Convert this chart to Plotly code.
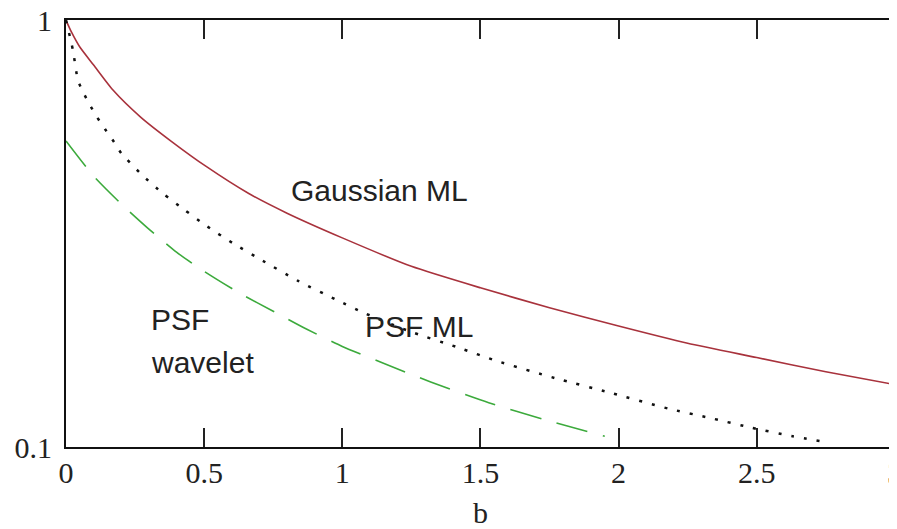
import math
import plotly.graph_objects as go

# Gaussian ML (red solid)
b_gauss = [0, 0.02, 0.05, 0.1, 0.17, 0.27, 0.38, 0.51, 0.66, 0.8, 1.0, 1.25, 1.5, 1.75, 2.0, 2.25, 2.5, 2.75, 3.0]
v_gauss = [1.0, 0.937, 0.865, 0.785, 0.686, 0.593, 0.521, 0.453, 0.393, 0.353, 0.309, 0.265, 0.236, 0.212, 0.192, 0.175, 0.162, 0.150, 0.140]

# PSF ML (black dotted)
b_psfml = [0, 0.025, 0.043, 0.062, 0.087, 0.112, 0.141, 0.174, 0.2, 0.275, 0.35, 0.43, 0.51, 0.605, 0.7, 0.84, 0.98, 1.08, 1.24, 1.42, 1.56, 1.77, 1.97, 2.18, 2.33, 2.48, 2.63, 2.74]
v_psfml = [1.0, 0.851, 0.724, 0.678, 0.632, 0.593, 0.556, 0.518, 0.488, 0.434, 0.393, 0.359, 0.329, 0.300, 0.276, 0.245, 0.221, 0.206, 0.187, 0.171, 0.159, 0.145, 0.134, 0.123, 0.117, 0.111, 0.106, 0.103]

# PSF wavelet (green dashed)
b_wav = [0, 0.1, 0.2, 0.3, 0.4, 0.5, 0.63, 0.75, 0.87, 1.0, 1.14, 1.32, 1.53, 1.73, 1.95]
v_wav = [0.521, 0.431, 0.371, 0.324, 0.286, 0.258, 0.229, 0.208, 0.189, 0.172, 0.158, 0.142, 0.127, 0.116, 0.106]

x_ticks = [0, 0.5, 1, 1.5, 2, 2.5, 3]
x_ticklabels = ["0", "0.5", "1", "1.5", "2", "2.5", "3"]
y_ticks = [0.1, 1]
y_ticklabels = ["0.1", "1"]

fig = go.Figure()
fig.add_trace(go.Scatter(x=b_gauss, y=v_gauss, mode="lines",
                         line=dict(color="#a8323c", width=1.6, shape="spline", smoothing=0.6),
                         name="Gaussian ML", showlegend=False))
fig.add_trace(go.Scatter(x=b_psfml, y=v_psfml, mode="lines",
                         line=dict(color="#111111", width=2.5, dash="3px,10px", shape="spline", smoothing=0.6),
                         name="PSF ML", showlegend=False))
fig.add_trace(go.Scatter(x=b_wav, y=v_wav, mode="lines",
                         line=dict(color="#3caa3c", width=1.6, dash="32px,16px", shape="spline", smoothing=0.6),
                         name="PSF wavelet", showlegend=False))

ann_font = dict(family="Liberation Sans, Arial, sans-serif", size=30, color="#222222")
# annotation y on a log axis is given in log10 units
fig.add_annotation(x=0.806, y=math.log10(0.40), xref="x", yref="y", text="Gaussian ML", showarrow=False,
                   xanchor="left", yanchor="middle", font=ann_font)
fig.add_annotation(x=1.075, y=math.log10(0.192), xref="x", yref="y", text="PSF ML", showarrow=False,
                   xanchor="left", yanchor="middle", font=ann_font)
fig.add_annotation(x=0.302, y=math.log10(0.199), xref="x", yref="y", text="PSF", showarrow=False,
                   xanchor="left", yanchor="middle", font=ann_font)
fig.add_annotation(x=0.302, y=math.log10(0.158), xref="x", yref="y", text="wavelet", showarrow=False,
                   xanchor="left", yanchor="middle", font=ann_font)

tick_font = dict(family="Liberation Serif, Times New Roman, serif", size=30, color="#222222")

fig.update_layout(
    width=889, height=521,
    margin=dict(l=58, r=2, t=12, b=82),
    paper_bgcolor="white", plot_bgcolor="white",
    showlegend=False,
    xaxis=dict(range=[0, 3.0005], tickvals=x_ticks, ticktext=x_ticklabels,
               ticks="inside", ticklen=19, tickwidth=2, tickcolor="#222222",
               showline=True, linewidth=2, linecolor="#111111", mirror="ticks",
               showgrid=False, zeroline=False, tickfont=tick_font,
               ticklabelstandoff=-2, ticklabeloverflow="allow", automargin=False,
               title=dict(text="b", font=tick_font, standoff=16)),
    yaxis=dict(type="log", range=[-1, 0.0004], tickvals=y_ticks, ticktext=y_ticklabels,
               ticks="", showline=True, linewidth=2, linecolor="#111111", mirror=True,
               showgrid=False, zeroline=False, tickfont=tick_font,
               ticklabelstandoff=6, ticklabeloverflow="allow", automargin=False),
)

fig.write_html("out.html")
